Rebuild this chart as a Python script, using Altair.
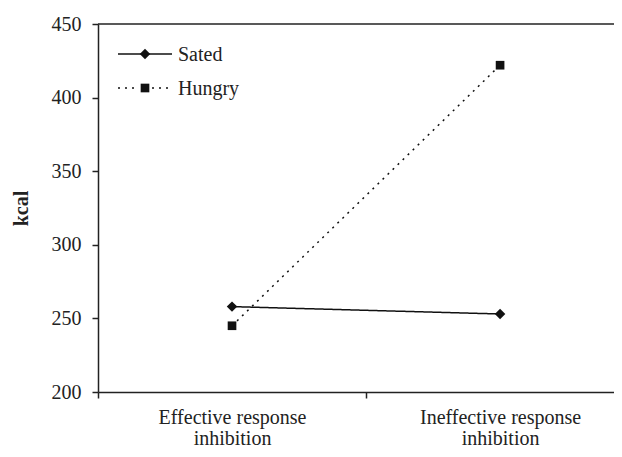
import altair as alt
import pandas as pd

categories = ["Effective response inhibition", "Ineffective response inhibition"]
series = ["Sated", "Hungry"]
sated = [258, 253]
hungry = [245, 422]
y_ticks = [200, 250, 300, 350, 400, 450]

rows = []
for s, vals in zip(series, [sated, hungry]):
    for i, (c, v) in enumerate(zip(categories, vals)):
        rows.append({"series": s, "category": c, "pos": i, "kcal": v})
df = pd.DataFrame(rows)

FONT = "Liberation Serif"
INK = "#222222"
MARK = "#111111"

def two_lines(c):
    a, b = c.rsplit(" ", 1)
    return "['" + a + "','" + b + "']"

label_expr = (
    "datum.value == 0 ? " + two_lines(categories[0]) +
    " : datum.value == 1 ? " + two_lines(categories[1]) + " : ''"
)

W, H = 516, 368
shapes = {"Sated": ("diamond", 110), "Hungry": ("square", 75)}
dashes = {"Sated": [1, 0], "Hungry": [2, 5]}

x_enc = alt.X(
    "pos:Q",
    scale=alt.Scale(domain=[-0.5, 1.425], nice=False, zero=False),
    axis=alt.Axis(
        values=[-0.5, 0, 0.5, 1],
        labelExpr=label_expr,
        title=None,
        grid=False,
        tickSize=6,
        tickWidth=1.5,
        tickColor=INK,
        tickOpacity={"condition": {"test": "datum.value == 0 || datum.value == 1", "value": 0}, "value": 1},
        domainColor=INK,
        domainWidth=1.5,
        labelFont=FONT,
        labelFontSize=20,
        labelColor=INK,
        labelPadding=9,
        labelLineHeight=21,
        labelBaseline="top",
        labelOverlap=False,
        labelBound=False,
        labelFlush=False,
    ),
)
y_enc = alt.Y(
    "kcal:Q",
    scale=alt.Scale(domain=[200, 450], nice=False, zero=False),
    axis=alt.Axis(
        values=y_ticks,
        title="kcal",
        titleFont=FONT,
        titleFontSize=20,
        titleFontWeight="bold",
        titleColor=INK,
        titlePadding=20,
        grid=False,
        tickSize=6,
        tickWidth=1.5,
        tickColor=INK,
        domainColor=INK,
        domainWidth=1.5,
        labelFont=FONT,
        labelFontSize=20,
        labelColor=INK,
        labelPadding=11,
    ),
)

base = alt.Chart(df)

lines = base.mark_line(color=MARK, strokeWidth=1.5).encode(
    x=x_enc,
    y=y_enc,
    detail="series:N",
    strokeDash=alt.StrokeDash(
        "series:N",
        scale=alt.Scale(domain=series, range=[dashes[s] for s in series]),
        legend=None,
    ),
)

point_layers = []
for s in series:
    shp, sz = shapes[s]
    point_layers.append(
        base.transform_filter(alt.datum.series == s).mark_point(
            shape=shp, filled=True, color=MARK, size=sz, opacity=1
        ).encode(x=x_enc, y=y_enc)
    )

# legend drawn inside the plot (top-left), one row per series
leg_df = pd.DataFrame({"series": series})
leg_layers = []
for i, s in enumerate(series):
    row_y = 30 + i * 34
    shp, sz = shapes[s]
    src = alt.Chart(leg_df).transform_filter(alt.datum.series == s)
    if s == "Sated":
        leg_layers.append(src.mark_rule(color=MARK, strokeWidth=1.5).encode(
            x=alt.value(20), x2=alt.value(74), y=alt.value(row_y)))
    else:
        leg_layers.append(src.mark_rule(color=MARK, strokeWidth=1.5, strokeDash=[2, 5]).encode(
            x=alt.value(20), x2=alt.value(40), y=alt.value(row_y)))
        leg_layers.append(src.mark_rule(color=MARK, strokeWidth=1.5, strokeDash=[2, 5]).encode(
            x=alt.value(54), x2=alt.value(74), y=alt.value(row_y)))
    leg_layers.append(src.mark_point(shape=shp, filled=True, color=MARK, size=sz, opacity=1).encode(
        x=alt.value(47), y=alt.value(row_y)))
    leg_layers.append(src.mark_text(font=FONT, fontSize=20, color=INK, align="left",
                                    baseline="middle").encode(
        x=alt.value(80), y=alt.value(row_y + 1), text="series:N"))

top_rule = alt.Chart(pd.DataFrame({"v": [450]})).mark_rule(
    color=INK, strokeWidth=1.5
).encode(y=alt.Y("v:Q", scale=alt.Scale(domain=[200, 450], nice=False, zero=False)),
         x=alt.value(0), x2=alt.value(530))

chart = alt.layer(top_rule, lines, *point_layers, *leg_layers).properties(
    width=W,
    height=H,
    autosize=alt.AutoSizeParams(type="none"),
    padding={"left": 90, "top": 16, "right": 0, "bottom": 57},
    background="white",
).configure_view(stroke=None)

chart.save("out.html", embed_options={"renderer": "svg", "actions": False})
